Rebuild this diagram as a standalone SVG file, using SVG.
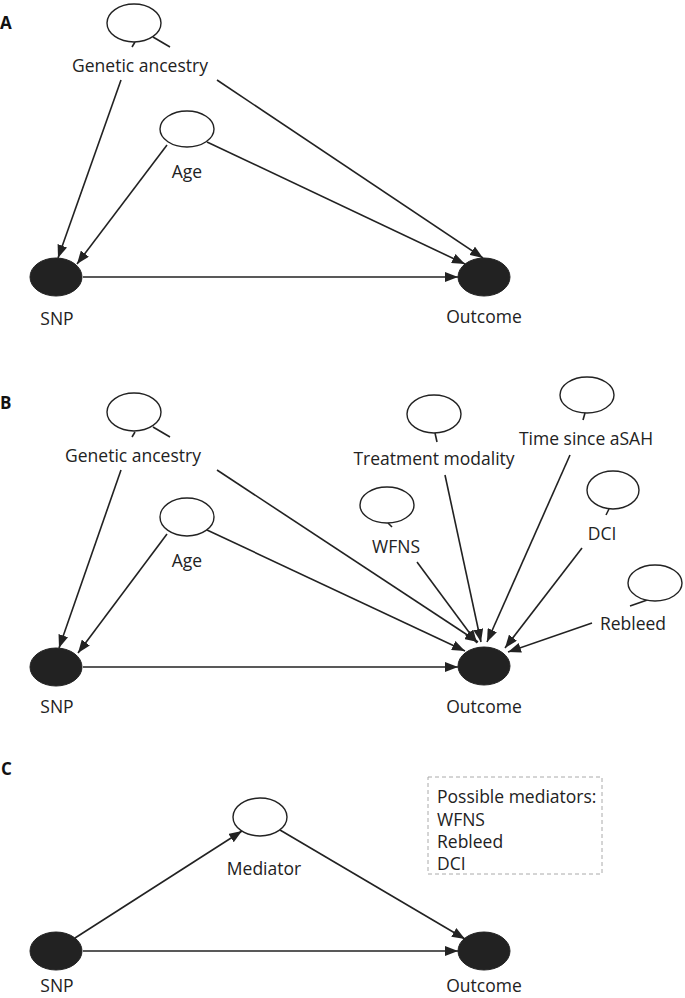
<svg xmlns="http://www.w3.org/2000/svg" width="685" height="998" viewBox="0 0 685 998">
<style>
.bg{fill:#ffffff}
.open{fill:#ffffff;stroke:#222;stroke-width:1.4}
.solid{fill:#222;stroke:#222;stroke-width:1}
.t{font-family:"Open Sans","Liberation Sans",sans-serif;font-size:17.5px;fill:#222;text-anchor:middle}
.tl{font-family:"Open Sans","Liberation Sans",sans-serif;font-size:17.5px;fill:#222}
.panel{font-family:"Open Sans","Liberation Sans",sans-serif;font-size:17px;font-weight:bold;fill:#111}
.edge{stroke:#222;stroke-width:1.6;fill:none;marker-end:url(#arr)}
.stub{stroke:#222;stroke-width:1.6;fill:none}
.box{fill:none;stroke:#aaa;stroke-width:1;stroke-dasharray:4 3}
</style>
<defs>
<marker id="arr" markerUnits="userSpaceOnUse" markerWidth="14" markerHeight="10" refX="13" refY="5" orient="auto">
<path d="M0,0 L13,5 L0,10 z" fill="#222"/>
</marker>
</defs>
<rect class="bg" x="0" y="0" width="685" height="998"/>

<text class="panel" x="0" y="29">A</text>
<text class="panel" x="0" y="409">B</text>
<text class="panel" x="1" y="775">C</text>

<g id="connectors">
<!-- A -->
<line class="edge" x1="121" y1="80" x2="58" y2="258"/>
<line class="edge" x1="217" y1="80" x2="483" y2="258"/>
<line class="edge" x1="167" y1="145" x2="77" y2="264"/>
<line class="edge" x1="207" y1="142" x2="465" y2="264"/>
<line class="edge" x1="83" y1="277" x2="458" y2="277"/>
<line class="stub" x1="135" y1="42" x2="132" y2="47"/>
<line class="stub" x1="153" y1="37" x2="170" y2="47"/>
<!-- B -->
<line class="edge" x1="121" y1="470" x2="59" y2="648"/>
<line class="edge" x1="217" y1="470" x2="478" y2="642"/>
<line class="edge" x1="167" y1="534" x2="78" y2="653"/>
<line class="edge" x1="207" y1="530" x2="465" y2="651"/>
<line class="edge" x1="83" y1="667" x2="458" y2="667"/>
<line class="edge" x1="445" y1="475" x2="481" y2="642"/>
<line class="edge" x1="570" y1="455" x2="487" y2="642"/>
<line class="edge" x1="417" y1="562" x2="477" y2="643"/>
<line class="edge" x1="582" y1="548" x2="505" y2="648"/>
<line class="edge" x1="592" y1="623" x2="508" y2="652"/>
<line class="stub" x1="135" y1="432" x2="132" y2="437"/>
<line class="stub" x1="153" y1="427" x2="170" y2="437"/>
<line class="stub" x1="435" y1="433" x2="437" y2="442"/>
<line class="stub" x1="585" y1="413" x2="583" y2="420"/>
<line class="stub" x1="388" y1="523" x2="392" y2="527"/>
<line class="stub" x1="609" y1="509" x2="606" y2="515"/>
<line class="stub" x1="653" y1="598" x2="630" y2="606"/>
<!-- C -->
<line class="edge" x1="75" y1="938" x2="242" y2="831"/>
<line class="edge" x1="280" y1="830" x2="465" y2="939"/>
<line class="edge" x1="83" y1="951" x2="458" y2="951"/>
</g>

<!-- Panel A nodes -->
<g id="A-genetic-ancestry">
<ellipse class="open" cx="134" cy="23" rx="27" ry="19"/>
<text class="t" x="140" y="72">Genetic ancestry</text>
</g>
<g id="A-age">
<ellipse class="open" cx="187" cy="129" rx="27" ry="18"/>
<text class="t" x="187" y="178">Age</text>
</g>
<g id="A-snp">
<ellipse class="solid" cx="56" cy="277" rx="26" ry="19"/>
<text class="t" x="57" y="325">SNP</text>
</g>
<g id="A-outcome">
<ellipse class="solid" cx="484" cy="277" rx="26" ry="19"/>
<text class="t" x="484" y="323">Outcome</text>
</g>

<!-- Panel B nodes -->
<g id="B-genetic-ancestry">
<ellipse class="open" cx="134" cy="412" rx="27" ry="19"/>
<text class="t" x="133" y="462">Genetic ancestry</text>
</g>
<g id="B-age">
<ellipse class="open" cx="187" cy="517" rx="27" ry="19"/>
<text class="t" x="187" y="567">Age</text>
</g>
<g id="B-snp">
<ellipse class="solid" cx="56" cy="667" rx="26" ry="19"/>
<text class="t" x="57" y="713">SNP</text>
</g>
<g id="B-outcome">
<ellipse class="solid" cx="484" cy="666" rx="26" ry="19"/>
<text class="t" x="484" y="713">Outcome</text>
</g>
<g id="B-treatment">
<ellipse class="open" cx="434" cy="414" rx="27" ry="19"/>
<text class="t" x="434" y="465">Treatment modality</text>
</g>
<g id="B-time">
<ellipse class="open" cx="587" cy="395" rx="27" ry="18"/>
<text class="t" x="586" y="445">Time since aSAH</text>
</g>
<g id="B-wfns">
<ellipse class="open" cx="387" cy="505" rx="27" ry="18"/>
<text class="t" x="396" y="553">WFNS</text>
</g>
<g id="B-dci">
<ellipse class="open" cx="613" cy="490" rx="26" ry="19"/>
<text class="t" x="602" y="540">DCI</text>
</g>
<g id="B-rebleed">
<ellipse class="open" cx="655" cy="583" rx="27" ry="18"/>
<text class="t" x="633" y="630">Rebleed</text>
</g>

<!-- Panel C nodes -->
<g id="C-mediator">
<ellipse class="open" cx="260" cy="817" rx="27" ry="19"/>
<text class="t" x="264" y="875">Mediator</text>
</g>
<g id="C-snp">
<ellipse class="solid" cx="56" cy="951" rx="26" ry="19"/>
<text class="t" x="57" y="992">SNP</text>
</g>
<g id="C-outcome">
<ellipse class="solid" cx="484" cy="951" rx="26" ry="19"/>
<text class="t" x="484" y="992">Outcome</text>
</g>
<g id="C-legend">
<rect class="box" x="428" y="777" width="174" height="97"/>
<text class="tl" x="437" y="803">Possible mediators:</text>
<text class="tl" x="437" y="826">WFNS</text>
<text class="tl" x="437" y="848">Rebleed</text>
<text class="tl" x="437" y="870">DCI</text>
</g>
</svg>
